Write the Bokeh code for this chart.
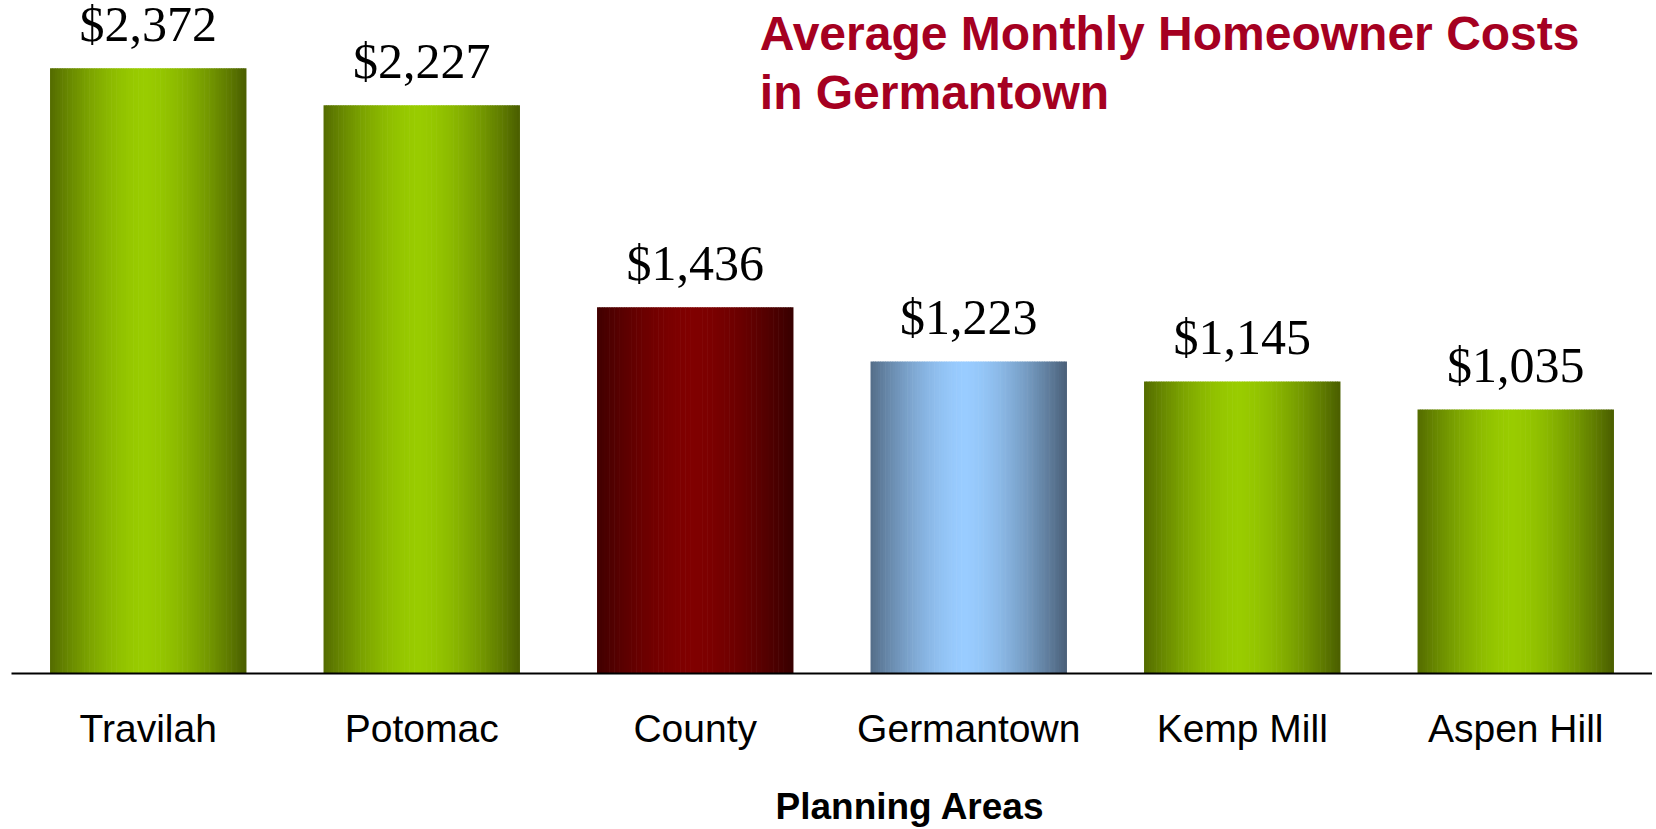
from bokeh.plotting import figure
from bokeh.models import FactorRange, Range1d, ColumnDataSource, LabelSet, Label, Title
from bokeh.embed import file_html
from bokeh.resources import INLINE

# ---- data ----
areas = ["Travilah", "Potomac", "County", "Germantown", "Kemp Mill", "Aspen Hill"]
costs = [2372, 2227, 1436, 1223, 1145, 1035]
bright_colors = ["#99CC00", "#99CC00", "#800000", "#99CCFF", "#99CC00", "#99CC00"]
dark_colors = ["#4A5E00", "#4A5E00", "#380000", "#4A6078", "#4A5E00", "#4A5E00"]
title_text = "Average Monthly Homeowner Costs\nin Germantown"
x_title = "Planning Areas"

BAR_W = 0.716
N = 80


def hex2rgb(h):
    h = h.lstrip("#")
    return tuple(int(h[i:i + 2], 16) for i in (0, 2, 4))


def mix(c1, c2, f):
    a, b = hex2rgb(c1), hex2rgb(c2)
    return "#%02x%02x%02x" % tuple(int(round(a[i] + (b[i] - a[i]) * f)) for i in range(3))


# gradient slices built from the bar data
xs, tops, cols = [], [], []
sw = BAR_W / N
for cat, val, br, dk in zip(areas, costs, bright_colors, dark_colors):
    for k in range(N):
        frac = (k + 0.5) / N
        off = -BAR_W / 2 + frac * BAR_W
        t = abs(frac - 0.48) / 0.52
        f = 1 - min(1.0, t) ** 1.6
        xs.append((cat, off))
        tops.append(val)
        cols.append(mix(dk, br, f))

slices = ColumnDataSource(dict(x=xs, top=tops, color=cols))
labels_src = ColumnDataSource(dict(x=areas, y=costs, txt=["${:,}".format(v) for v in costs]))

p = figure(x_range=FactorRange(factors=areas, range_padding=0),
           y_range=Range1d(0, 2638),
           frame_width=1641, frame_height=673,
           min_border_left=11, min_border_right=0, min_border_top=0, min_border_bottom=0,
           output_backend="svg", toolbar_location=None, y_axis_location=None)

p.vbar(x="x", top="top", width=sw * 1.25, bottom=0, fill_color="color", line_color=None, source=slices)

p.add_layout(LabelSet(x="x", y="y", text="txt", source=labels_src, y_offset=27,
                      text_align="center", text_baseline="alphabetic",
                      text_font="Liberation Serif", text_font_size="50px", text_color="black"))

p.add_layout(Label(x=2.736, y=2611, text=title_text, text_align="left", text_baseline="top",
                   text_font="Liberation Sans", text_font_style="bold", text_font_size="48px",
                   text_color="#A50021", text_line_height=1.1))

p.xgrid.grid_line_color = None
p.ygrid.grid_line_color = None
p.outline_line_color = None
p.background_fill_color = "white"
p.border_fill_color = "white"

ax = p.xaxis[0]
ax.axis_line_color = "black"
ax.axis_line_width = 2
ax.major_tick_out = 0
ax.major_tick_in = 0
ax.minor_tick_out = 0
ax.major_label_standoff = 33
ax.major_label_text_font = "Liberation Sans"
ax.major_label_text_font_size = "39px"
ax.major_label_text_color = "black"

p.add_layout(Title(text=x_title, align="left", offset=764, text_font="Liberation Sans",
                   text_font_style="bold", text_font_size="37px", text_color="black",
                   standoff=63), "below")

open("out.html", "w").write(file_html(p, INLINE))
